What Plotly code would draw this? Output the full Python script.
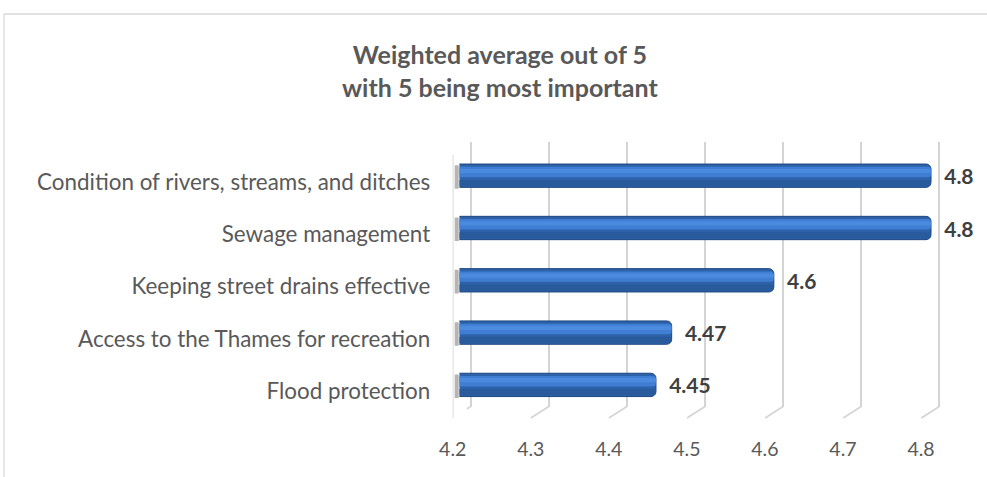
import plotly.graph_objects as go

# ---- data ----
categories = [
    "Condition of rivers, streams, and ditches",
    "Sewage management",
    "Keeping street drains effective",
    "Access to the Thames for recreation",
    "Flood protection",
]
values = [4.8, 4.8, 4.6, 4.47, 4.45]
value_labels = ["4.8", "4.8", "4.6", "4.47", "4.45"]
tick_vals = [4.2, 4.3, 4.4, 4.5, 4.6, 4.7, 4.8]
tick_text = ["4.2", "4.3", "4.4", "4.5", "4.6", "4.7", "4.8"]
title_lines = ["Weighted average out of 5", "with 5 being most important"]

# ---- layout helpers (pixels -> paper) ----
W, H = 987, 477
FONT = "Lato"
GRAY = "#595959"
GRID = "#d4d4d4"


def fx(px):
    return px / W


def fy(py):
    return 1 - py / H


def xdomain(px_lo, px_hi, r_lo, r_hi, v_lo=4.2, v_hi=4.8):
    per = (px_hi - px_lo) / (v_hi - v_lo)
    return [fx(px_lo - (v_lo - r_lo) * per), fx(px_hi + (r_hi - v_hi) * per)]


n = len(categories)
pos = list(range(n))

# back wall (gridlines)
BACK_L, BACK_R, BACK_T, BACK_B = 470.7, 939.3, 142.0, 406.5
# middle plane (bars)
MID_L, MID_R = 459.5, 931.0
BAR_TOP_C, BAR_SP = 175.7, 52.3
# front plane (labels)
FRONT_L, FRONT_R = 452.7, 921.0
FRONT_DY = 6.3

fig = go.Figure()

# invisible trace to create the back-wall subplot
fig.add_trace(go.Scatter(x=values, y=pos, mode="markers", marker=dict(opacity=0),
                         hoverinfo="skip", showlegend=False, xaxis="x", yaxis="y"))

# bars: base, darker bottom band, highlight band
bw = 0.446
fig.add_trace(go.Bar(x=values, y=pos, orientation="h", width=bw,
                     marker=dict(color="#2d62aa", line=dict(color="#1d4680", width=1), cornerradius=5),
                     text=value_labels, texttemplate="  %{text}", textposition="outside",
                     textfont=dict(family=FONT, size=21, color="#404040", weight="bold"),
                     cliponaxis=False, constraintext="none",
                     showlegend=False, xaxis="x2", yaxis="y2"))
fig.add_trace(go.Bar(x=values, y=pos, orientation="h", width=0.12, offset=0.08,
                     marker=dict(color="#295a9c", line=dict(width=0), cornerradius=3),
                     hoverinfo="skip", showlegend=False, xaxis="x2", yaxis="y2"))
fig.add_trace(go.Bar(x=values, y=pos, orientation="h", width=0.2, offset=-0.17,
                     marker=dict(color="#3f7ed2", line=dict(width=0), cornerradius=3),
                     hoverinfo="skip", showlegend=False, xaxis="x2", yaxis="y2"))
fig.add_trace(go.Bar(x=values, y=pos, orientation="h", width=0.08, offset=-0.13,
                     marker=dict(color="#4a8be0", line=dict(width=0), cornerradius=2),
                     hoverinfo="skip", showlegend=False, xaxis="x2", yaxis="y2"))

# invisible trace for front-plane labels
fig.add_trace(go.Scatter(x=values, y=pos, mode="markers", marker=dict(opacity=0),
                         hoverinfo="skip", showlegend=False, xaxis="x3", yaxis="y3"))

half = BAR_SP * n / 2
mid_c = BAR_TOP_C + BAR_SP * (n - 1) / 2

fig.update_layout(
    width=W, height=H, autosize=False,
    margin=dict(l=0, r=0, t=0, b=0, pad=0),
    paper_bgcolor="white", plot_bgcolor="rgba(0,0,0,0)",
    barmode="overlay", hovermode=False,
    font=dict(family=FONT, color=GRAY),
    showlegend=False,
    xaxis=dict(domain=xdomain(BACK_L, BACK_R, 4.195, 4.805), range=[4.195, 4.805],
               tickvals=tick_vals, showticklabels=False, showgrid=True,
               gridcolor=GRID, gridwidth=1.6, zeroline=False, showline=False,
               anchor="y", automargin=False),
    yaxis=dict(domain=[fy(BACK_B), fy(BACK_T)], range=[n - 0.5, -0.5],
               showticklabels=False, showgrid=False, zeroline=False, anchor="x", automargin=False),
    xaxis2=dict(domain=xdomain(MID_L, MID_R, 4.2, 4.85), range=[4.2, 4.85],
                showticklabels=False, showgrid=False, zeroline=False, anchor="y2", automargin=False),
    yaxis2=dict(domain=[fy(mid_c + half), fy(mid_c - half)], range=[n - 0.5, -0.5],
                showticklabels=False, showgrid=False, zeroline=False, anchor="x2", automargin=False),
    xaxis3=dict(domain=xdomain(FRONT_L, FRONT_R, 4.2, 4.8), range=[4.2, 4.8],
                tickvals=tick_vals, ticktext=tick_text, showgrid=False, zeroline=False,
                anchor="free", position=fy(435), side="bottom", automargin=False,
                ticks="", tickfont=dict(family=FONT, size=19.5, color=GRAY)),
    yaxis3=dict(domain=[fy(mid_c + half + FRONT_DY), fy(mid_c - half + FRONT_DY)],
                range=[n - 0.5, -0.5], tickvals=pos, ticktext=categories,
                showgrid=False, zeroline=False, anchor="x3", automargin=False,
                ticks="outside", ticklen=17, tickcolor="rgba(0,0,0,0)",
                tickfont=dict(family=FONT, size=22.4, color=GRAY)),
)

# title
fig.add_annotation(text="<b>" + title_lines[0] + "<br>" + title_lines[1] + "</b>",
                   xref="paper", yref="paper", x=fx(500), y=fy(70), xanchor="center", yanchor="middle",
                   showarrow=False, font=dict(family=FONT, size=25, color=GRAY))

shapes = []
# chart border (top + left)
shapes.append(dict(type="line", xref="paper", yref="paper", x0=fx(4), x1=1, y0=fy(14), y1=fy(14),
                   line=dict(color="#d9d9d9", width=1.3)))
shapes.append(dict(type="line", xref="paper", yref="paper", x0=fx(4), x1=fx(4), y0=fy(14), y1=0,
                   line=dict(color="#d9d9d9", width=1.3)))
# floor diagonals for each gridline
for v in tick_vals:
    shapes.append(dict(type="line", xref="x", yref="paper", xsizemode="pixel", xanchor=v,
                       x0=0, x1=-(BACK_L - FRONT_L), y0=fy(BACK_B), y1=fy(BACK_B + 11.5),
                       line=dict(color=GRID, width=1.6)))
# side wall front edge
shapes.append(dict(type="line", xref="x3", yref="paper", x0=tick_vals[0], x1=tick_vals[0],
                   y0=fy(155), y1=fy(BACK_B + 11.5), line=dict(color=GRID, width=1.6)))
# bar shadows on the side wall
for i in pos:
    shapes.append(dict(type="rect", xref="x3", yref="y2", xsizemode="pixel", xanchor=tick_vals[0],
                       x0=2, x1=6, y0=i - 0.2, y1=i + 0.25, fillcolor="rgba(90,90,90,0.45)",
                       line=dict(width=0), layer="below"))
fig.update_layout(shapes=shapes)

fig.write_html("out.html", config={"displayModeBar": False},
               post_script="document.body.style.margin='0';document.body.style.overflow='hidden';")
